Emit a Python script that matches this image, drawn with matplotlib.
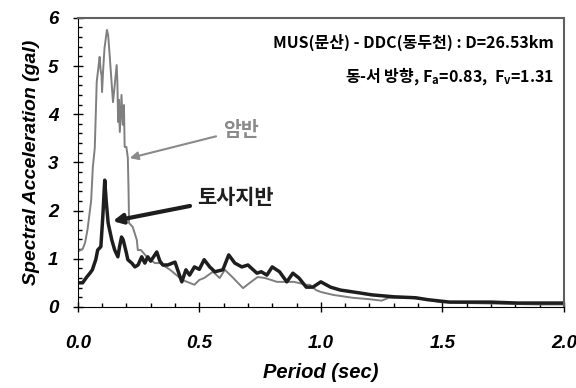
import numpy as np
import matplotlib
matplotlib.use('Agg')
import matplotlib.pyplot as plt
from matplotlib.ticker import MultipleLocator

# response spectrum, rock site (gray)
rock_T = [0.0, 0.02, 0.03, 0.04, 0.055, 0.062, 0.07, 0.074, 0.078, 0.086, 0.09, 0.094, 0.098,
          0.10, 0.104, 0.11, 0.12, 0.125, 0.128, 0.132, 0.14, 0.145, 0.152, 0.16, 0.163, 0.166,
          0.169, 0.173, 0.18, 0.185, 0.19, 0.193, 0.2, 0.206, 0.209, 0.211, 0.226, 0.243, 0.247,
          0.26, 0.284, 0.317, 0.337, 0.38, 0.43, 0.48, 0.5, 0.52, 0.556, 0.584, 0.605, 0.63,
          0.68, 0.708, 0.74, 0.77, 0.82, 0.85, 0.89, 0.94, 0.955, 0.98, 1.0, 1.05, 1.13, 1.2,
          1.25, 1.28, 1.37, 1.44, 1.49, 1.6, 1.7, 1.8, 1.9, 2.0]
rock_Sa = [1.15, 1.2, 1.33, 1.6, 2.2, 2.9, 3.3, 3.98, 4.67, 5.02, 5.19, 4.92, 4.8,
           4.46, 4.88, 5.37, 5.75, 5.64, 5.45, 5.17, 4.6, 4.25, 4.6, 5.02, 4.67, 3.84,
           4.3, 3.63, 4.4, 3.78, 4.19, 3.32, 3.32, 3.09, 2.4, 1.74, 1.66, 1.39, 1.18,
           1.18, 1.04, 0.91, 0.91, 0.77, 0.56, 0.46, 0.56, 0.6, 0.73, 0.6, 0.77, 0.65,
           0.39, 0.5, 0.62, 0.6, 0.52, 0.52, 0.52, 0.46, 0.46, 0.35, 0.31, 0.25, 0.19, 0.16,
           0.13, 0.19, 0.19, 0.15, 0.1, 0.08, 0.07, 0.06, 0.05, 0.05]

# response spectrum, soil site (black)
soil_T = [0.0, 0.02, 0.037, 0.05, 0.06, 0.074, 0.082, 0.095, 0.103, 0.111, 0.117, 0.125,
          0.14, 0.152, 0.165, 0.172, 0.18, 0.187, 0.2, 0.206, 0.222, 0.235, 0.248, 0.263,
          0.276, 0.288, 0.3, 0.325, 0.338, 0.35, 0.37, 0.39, 0.40, 0.428, 0.445, 0.46,
          0.48, 0.5, 0.52, 0.543, 0.564, 0.597, 0.621, 0.646, 0.675, 0.70, 0.737, 0.755,
          0.778, 0.80, 0.83, 0.86, 0.885, 0.91, 0.94, 0.967, 1.0, 1.04, 1.08, 1.16, 1.21,
          1.3, 1.39, 1.44, 1.53, 1.70, 1.81, 2.0]
soil_Sa = [0.5, 0.5, 0.62, 0.7, 0.77, 0.98, 1.18, 1.25, 1.87, 2.63, 2.2, 1.74,
           1.39, 1.18, 1.04, 1.25, 1.45, 1.39, 1.12, 0.98, 0.91, 0.83, 0.87, 1.04,
           0.91, 1.04, 0.95, 1.14, 0.95, 0.87, 0.87, 0.91, 0.93, 0.52, 0.77, 0.66,
           0.83, 0.78, 0.98, 0.83, 0.73, 0.77, 1.08, 0.91, 0.83, 0.87, 0.7, 0.73,
           0.66, 0.83, 0.73, 0.52, 0.7, 0.6, 0.41, 0.41, 0.52, 0.41, 0.35, 0.29, 0.25,
           0.21, 0.19, 0.15, 0.1, 0.1, 0.08, 0.08]

title_line1 = 'MUS(문산) - DDC(동두천) : D=26.53km'
title_line2 = '동-서 방향, F$_\\mathregular{a}$=0.83,  F$_\\mathregular{v}$=1.31'

kr = ['Noto Sans CJK KR', 'DejaVu Sans']
num_font = dict(family='Liberation Sans', weight='bold', style='italic')

fig = plt.figure(figsize=(5.76, 3.88), dpi=100)
ax = fig.add_axes([0.135, 0.209, 0.844, 0.745])

ax.plot(rock_T, rock_Sa, color='#7f7f7f', lw=1.4)
ax.plot(soil_T, soil_Sa, color='#1e1e1e', lw=2.5)

ax.set_xlim(0, 2.0)
ax.set_ylim(0, 6)
ax.xaxis.set_major_locator(MultipleLocator(0.5))
ax.xaxis.set_minor_locator(MultipleLocator(0.1))
ax.yaxis.set_major_locator(MultipleLocator(1))
ax.yaxis.set_minor_locator(MultipleLocator(0.2))
ax.set_xticklabels([f'{v:.1f}' for v in ax.get_xticks()], fontsize=13.5, **num_font)
ax.set_yticks(range(0, 7))
ax.set_yticklabels([str(v) for v in range(0, 7)], fontsize=13.5, **num_font)
ax.tick_params(which='major', direction='inout', length=7, width=1)
ax.tick_params(which='minor', direction='in', length=3, width=1)
ax.tick_params(axis='x', which='major', pad=16.5)
ax.tick_params(axis='y', which='major', pad=10.5)

for side in ['top', 'right']:
    ax.spines[side].set_color('#606060')
    ax.spines[side].set_linewidth(1.5)
for side in ['left', 'bottom']:
    ax.spines[side].set_color('black')

ax.set_xlabel('Period (sec)', fontsize=14.5, labelpad=8, **num_font)
ax.set_ylabel('Spectral Acceleration (gal)', fontsize=14, labelpad=6, **num_font)

ax.text(0.98, 0.915, title_line1, transform=ax.transAxes, ha='right', va='center',
        fontsize=11.5, fontweight='bold', family=kr)
ax.text(0.98, 0.8, title_line2, transform=ax.transAxes, ha='right', va='center',
        fontsize=11.5, fontweight='bold', family=kr)

ax.annotate('암반', xy=(0.214, 3.09), xytext=(0.597, 3.67), ha='left', va='center',
            fontsize=14, fontweight='bold', family=kr, color='#8a8a8a',
            arrowprops=dict(arrowstyle='-|>', color='#8a8a8a', lw=1.5,
                            mutation_scale=12, shrinkA=3, shrinkB=0))
ax.annotate('토사지반', xy=(0.144, 1.78), xytext=(0.49, 2.28), ha='left', va='center',
            fontsize=15, fontweight='bold', family=kr, color='#1e1e1e',
            arrowprops=dict(arrowstyle='-|>', color='#1e1e1e', lw=3,
                            mutation_scale=14, shrinkA=3, shrinkB=0))

fig.savefig('out.png', dpi=100)
